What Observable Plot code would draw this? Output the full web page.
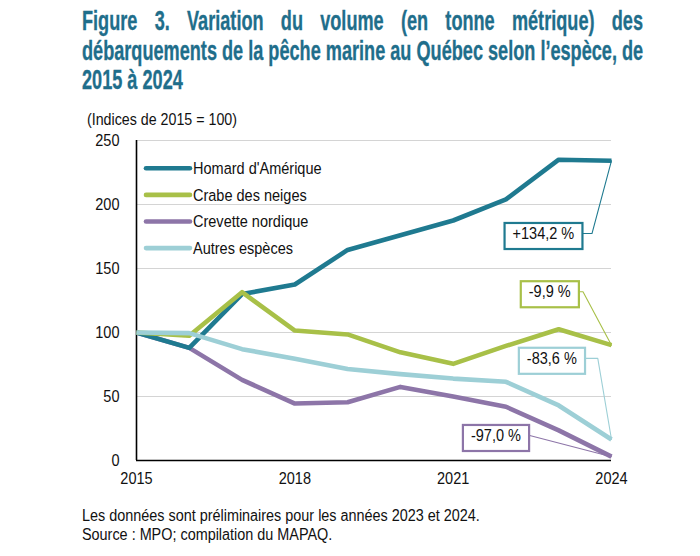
<!DOCTYPE html>
<html lang="fr">
<head>
<meta charset="utf-8">
<script src="https://cdn.jsdelivr.net/npm/d3@7"></script>
<script src="https://cdn.jsdelivr.net/npm/@observablehq/plot@0.6"></script>
<style>
  html, body { margin: 0; padding: 0; background: #fff; }
  body {
    width: 700px; height: 556px; position: relative; overflow: hidden;
    font-family: "Liberation Sans", Arial, sans-serif;
    color: #111;
  }
  .title-line {
    position: absolute; left: 82px;
    font-family: "Liberation Sans", Arial, sans-serif;
    font-weight: bold; font-size: 28.5px; line-height: 28px;
    color: #1f6e8b; white-space: nowrap; transform-origin: 0 0;
    -webkit-text-stroke: 0.35px #1f6e8b;
  }
  .title-line.justified { text-align: justify; text-align-last: justify; }
  .narrow { position: absolute; white-space: nowrap; transform-origin: 0 0; }
  .note { left: 82px; font-size: 16px; line-height: 19px; transform: scaleX(0.9); }
  .ylabel { left: 87px; top: 112px; font-size: 16px; line-height: 16px; transform: scaleX(0.89); }
  #chart { position: absolute; left: 0; top: 100px; }
</style>
</head>
<body>
<div class="title-line justified" id="t1">Figure 3. Variation du volume (en tonne métrique) des</div>
<div class="title-line justified" id="t2">débarquements de la pêche marine au Québec selon l’espèce, de</div>
<div class="title-line" id="t3">2015 à 2024</div>
<div class="narrow ylabel">(Indices de 2015 = 100)</div>
<div id="chart"></div>
<div class="narrow note" style="top:506px">Les données sont préliminaires pour les années 2023 et 2024.<br>Source : MPO; compilation du MAPAQ.</div>
<script>
// Landings volume index (2015 = 100) by species
const years = [2015, 2016, 2017, 2018, 2019, 2020, 2021, 2022, 2023, 2024];
const homard   = [100, 88, 130, 137.5, 164.5, 176, 187.5, 204, 235, 234.2];
const crabe    = [100, 97.5, 131.5, 101.5, 98.5, 84.5, 75.5, 89.5, 102.5, 90.1];
const crevette = [100, 88, 63, 44.5, 45.5, 57.5, 50, 42, 23.5, 3.0];
const autres   = [100, 99.5, 87, 79.5, 71.5, 67.5, 64, 61.5, 43, 16.4];

const species = ["Homard d'Amérique", "Crabe des neiges", "Crevette nordique", "Autres espèces"];
const seriesValues = [homard, crabe, crevette, autres];
const colors = ["#1f7a90", "#a8c048", "#8d75a8", "#9dcfd6"];

const xTicks = [2015, 2018, 2021, 2024];
const yTicks = [0, 50, 100, 150, 200, 250];

// Placement of each change label (box centre and elbow of the leader line)
const calloutPlacement = [
  {serie: "Homard d'Amérique", boxYear: 2022.71, boxValue: 177.3, elbowYear: 2023.63},
  {serie: "Crabe des neiges",  boxYear: 2022.83, boxValue: 131.8, elbowYear: 2023.46},
  {serie: "Autres espèces",    boxYear: 2022.87, boxValue: 79.8,  elbowYear: 2023.74},
  {serie: "Crevette nordique", boxYear: 2021.81, boxValue: 19.5,  elbowYear: 2022.45}
];

// Long table for the lines; draw order puts the lighter series on top
const drawOrder = [2, 0, 1, 3];
const rows = drawOrder.flatMap(i => years.map((year, j) => ({serie: species[i], year, value: seriesValues[i][j]})));

const lastValue = s => seriesValues[species.indexOf(s)][years.length - 1];
const fmtChange = v => {
  const c = v - 100;
  return (c > 0 ? "+" : "") + c.toFixed(1).replace(".", ",") + " %";
};

const callouts = calloutPlacement.map(c => ({
  ...c, label: fmtChange(lastValue(c.serie)), color: colors[species.indexOf(c.serie)]
}));
const leaders = callouts.flatMap(c => [
  {serie: c.serie, year: c.boxYear, value: c.boxValue},
  {serie: c.serie, year: c.elbowYear, value: c.boxValue},
  {serie: c.serie, year: years[years.length - 1], value: lastValue(c.serie)}
]);

const font = '"Liberation Sans", Arial, sans-serif';
const squeeze = 0.88; // horizontal condensing of the chart lettering

const chart = Plot.plot({
  width: 700,
  height: 400,
  marginTop: 40,
  marginBottom: 40,
  marginLeft: 136,
  marginRight: 89,
  style: {fontFamily: font, fontSize: "16.5px", color: "#111", background: "transparent", overflow: "visible"},
  x: {type: "linear", domain: [2015, 2024]},
  y: {type: "linear", domain: [0, 250]},
  color: {domain: species, range: colors},
  marks: [
    Plot.gridY(yTicks.filter(d => d > 0), {stroke: "#d4d4d4", strokeOpacity: 1, strokeWidth: 1.2}),
    Plot.axisY(yTicks, {tickSize: 0, tickPadding: 17, label: null, fontSize: 16.5, fill: "#111"}),
    Plot.axisX(xTicks, {tickSize: 0, tickPadding: 12, tickFormat: "d", label: null, fontSize: 16.5, fill: "#111"}),
    Plot.ruleY([0], {stroke: "#000", strokeWidth: 1.6}),
    Plot.ruleX([2015], {stroke: "#000", strokeWidth: 1.6}),
    Plot.line(rows, {x: "year", y: "value", z: "serie", stroke: "serie", strokeWidth: 4.6, strokeLinejoin: "round", strokeLinecap: "butt"}),
    Plot.line(leaders, {x: "year", y: "value", z: "serie", stroke: "serie", strokeWidth: 1.1}),
    Plot.text(callouts, {x: "boxYear", y: "boxValue", text: "label", fill: "#111", fontSize: 16.5})
  ]
});

document.getElementById("chart").appendChild(chart);

// Legend, top-left inside the frame
const svg = d3.select(chart);
const legend = svg.append("g").attr("font-family", font).attr("font-size", 16.5).attr("text-anchor", "start");
species.forEach((s, i) => {
  const y = 68.3 + 26.6 * i;
  legend.append("line")
    .attr("x1", 146).attr("x2", 190).attr("y1", y).attr("y2", y)
    .attr("stroke", colors[i]).attr("stroke-width", 4.6).attr("stroke-linecap", "round");
  legend.append("text").attr("x", 193).attr("y", y + 6).attr("fill", "#111").text(s);
});

// Condense an SVG text element horizontally around its own x anchor
function condense(el, k) {
  const x = parseFloat(el.getAttribute("x")) || 0;
  const t = el.getAttribute("transform") || "";
  el.setAttribute("transform", `${t} translate(${x},0) scale(${k},1) translate(${-x},0)`);
}

function finish() {
  svg.selectAll("text").each(function() { condense(this, squeeze); });

  // White boxes outlined in the series colour behind each change label
  const svgBox = chart.getBoundingClientRect();
  const labels = callouts.map(c => c.label);
  svg.selectAll("text").filter(function() { return labels.includes(this.textContent); }).each(function() {
    const c = callouts[labels.indexOf(this.textContent)];
    const b = this.getBoundingClientRect();
    const g = this.parentNode;
    const rect = document.createElementNS("http://www.w3.org/2000/svg", "rect");
    rect.setAttribute("x", b.left - svgBox.left - 8);
    rect.setAttribute("y", b.top - svgBox.top - 1);
    rect.setAttribute("width", b.width + 16);
    rect.setAttribute("height", b.height + 8);
    rect.setAttribute("fill", "#fff");
    rect.setAttribute("stroke", c.color);
    rect.setAttribute("stroke-width", 2.2);
    g.parentNode.insertBefore(rect, g);
  });

  // Condensed title: lines 1 and 2 are justified to the same width
  const targetWidth = 561;
  const t2 = document.getElementById("t2");
  const natural = t2.scrollWidth;
  const k = targetWidth / natural;
  const tops = [6, 36, 65];
  ["t1", "t2", "t3"].forEach((id, i) => {
    const el = document.getElementById(id);
    el.style.top = tops[i] + "px";
    el.style.transform = `scaleX(${k})`;
    if (el.classList.contains("justified")) el.style.width = (targetWidth / k) + "px";
  });
}
if (document.fonts && document.fonts.ready) document.fonts.ready.then(finish); else finish();
</script>
</body>
</html>
